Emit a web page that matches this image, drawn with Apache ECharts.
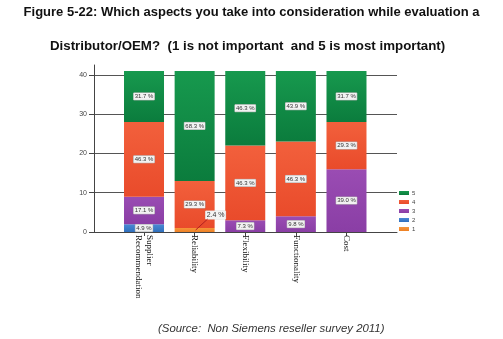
<!DOCTYPE html>
<html>
<head>
<meta charset="utf-8">
<script src="https://cdn.jsdelivr.net/npm/echarts@6/dist/echarts.min.js"></script>
<style>html,body{margin:0;padding:0;background:#fff}#c{width:503px;height:339px}</style>
</head>
<body>
<div id="c"></div>
<script>
const categories = ['Supplier\nRecommendation', 'Reliability', 'Flexibility', 'Functionality', 'Cost'];
const rating1 = [null, 1, null, null, null];
const rating2 = [2, null, null, null, null];
const rating3 = [7, null, 3, 4, 16];
const rating4 = [19, 12, 19, 19, 12];
const rating5 = [13, 28, 19, 18, 13];
const yTicks = [0, 10, 20, 30, 40];
const legendOrder = ['5', '4', '3', '2', '1'];
const titleLine1 = 'Figure 5-22: Which aspects you take into consideration while evaluation a';
const titleLine2 = 'Distributor/OEM?  (1 is not important  and 5 is most important)';
const sourceText = '(Source:  Non Siemens reseller survey 2011)';

const totals = categories.map((c, i) =>
  [rating1, rating2, rating3, rating4, rating5].reduce((s, a) => s + (a[i] || 0), 0));

function grad(top, bottom) {
  return new echarts.graphic.LinearGradient(0, 0, 0, 1, [
    { offset: 0, color: top }, { offset: 1, color: bottom }
  ]);
}

const labelStyle = {
  show: true,
  position: 'inside',
  fontSize: 6,
  fontFamily: 'Liberation Sans',
  color: '#333',
  backgroundColor: '#f2f2f2',
  borderColor: '#b0b0b0',
  borderWidth: 0.5,
  padding: [1, 1, 0, 1],
  formatter: p => (p.value / totals[p.dataIndex] * 100).toFixed(1) + ' %'
};

function mk(name, data, color, extra) {
  return Object.assign({
    name: name,
    type: 'bar',
    stack: 'all',
    xAxisIndex: 1,
    yAxisIndex: 1,
    barWidth: 40,
    data: data,
    itemStyle: { color: color },
    label: labelStyle
  }, extra || {});
}

const chart = echarts.init(document.getElementById('c'), null, { renderer: 'canvas' });
chart.setOption({
  animation: false,
  title: [
    { text: titleLine1, left: 'center', top: 1,
      textStyle: { fontFamily: 'Liberation Sans', fontWeight: 'bold', fontSize: 13, color: '#111' } },
    { text: titleLine2, left: 45, top: 35,
      textStyle: { fontFamily: 'Liberation Sans', fontWeight: 'bold', fontSize: 13.3, color: '#111' } },
    { text: sourceText, left: 153, top: 318,
      textStyle: { fontFamily: 'Liberation Sans', fontStyle: 'italic', fontWeight: 'normal', fontSize: 11.4, color: '#333' } }
  ],
  legend: {
    data: legendOrder,
    orient: 'vertical',
    left: 399,
    top: 190,
    padding: 0,
    itemWidth: 10,
    itemHeight: 4,
    itemGap: 3,
    icon: 'rect',
    textStyle: { fontSize: 6, lineHeight: 6, color: '#444', fontFamily: 'Liberation Sans', padding: [0, 0, 0, -2] }
  },
  grid: [
    { left: 94, right: 106, top: 65, bottom: 107 },
    { left: 118.7, width: 253.1, top: 65, bottom: 107 }
  ],
  xAxis: [
    { type: 'value', gridIndex: 0, min: 0, max: 1, axisLabel: { show: false }, axisTick: { show: false },
      splitLine: { show: false }, axisLine: { show: true, lineStyle: { color: '#444', width: 1 } } },
    { type: 'category', gridIndex: 1, data: categories,
      axisLine: { show: false },
      axisTick: { show: true, alignWithLabel: true, length: 4, lineStyle: { color: '#444' } },
      axisLabel: { rotate: -90, margin: 3, fontFamily: 'Liberation Serif', fontSize: 9, color: '#111', lineHeight: 11 } }
  ],
  yAxis: [
    { type: 'value', gridIndex: 0, min: 0, max: 42.5,
      axisLine: { show: true, lineStyle: { color: '#444' } },
      axisTick: { show: true, length: 5, customValues: yTicks, lineStyle: { color: '#444' } },
      axisLabel: { customValues: yTicks, fontSize: 7, color: '#444', fontFamily: 'Liberation Sans', margin: 7 },
      splitLine: { show: true, customValues: yTicks, lineStyle: { color: '#555', width: 1 } } },
    { type: 'value', gridIndex: 1, min: 0, max: 42.5, show: false, splitLine: { show: false } }
  ],
  series: [
    mk('1', rating1, grad('#f5953a', '#ee8125'), {
      labelLayout: p => (p.dataIndex === 1 ? { dx: 21, dy: -15 } : {}),
      label: Object.assign({}, labelStyle, { fontSize: 7, backgroundColor: '#f4f4f4', borderColor: '#ddd' })
    }),
    mk('2', rating2, grad('#4a8ad4', '#2f6fbd')),
    mk('3', rating3, grad('#9a4cb3', '#8a3ea5')),
    mk('4', rating4, grad('#f2603c', '#e94b2b')),
    mk('5', rating5, grad('#17994e', '#0b7c3d'))
  ]
});

// leader line from the small "1" segment of Reliability to its moved label
const segIdx = rating1.findIndex(v => v != null);
const p0 = chart.convertToPixel({ xAxisIndex: 1, yAxisIndex: 1 }, [segIdx, rating1[segIdx] / 2]);
chart.setOption({
  graphic: [{
    type: 'polyline',
    z: 100,
    shape: { points: [[p0[0] + 1, p0[1]], [p0[0] + 13, p0[1] - 11]] },
    style: { stroke: '#b02020', lineWidth: 1, fill: null }
  }]
});
</script>
</body>
</html>
